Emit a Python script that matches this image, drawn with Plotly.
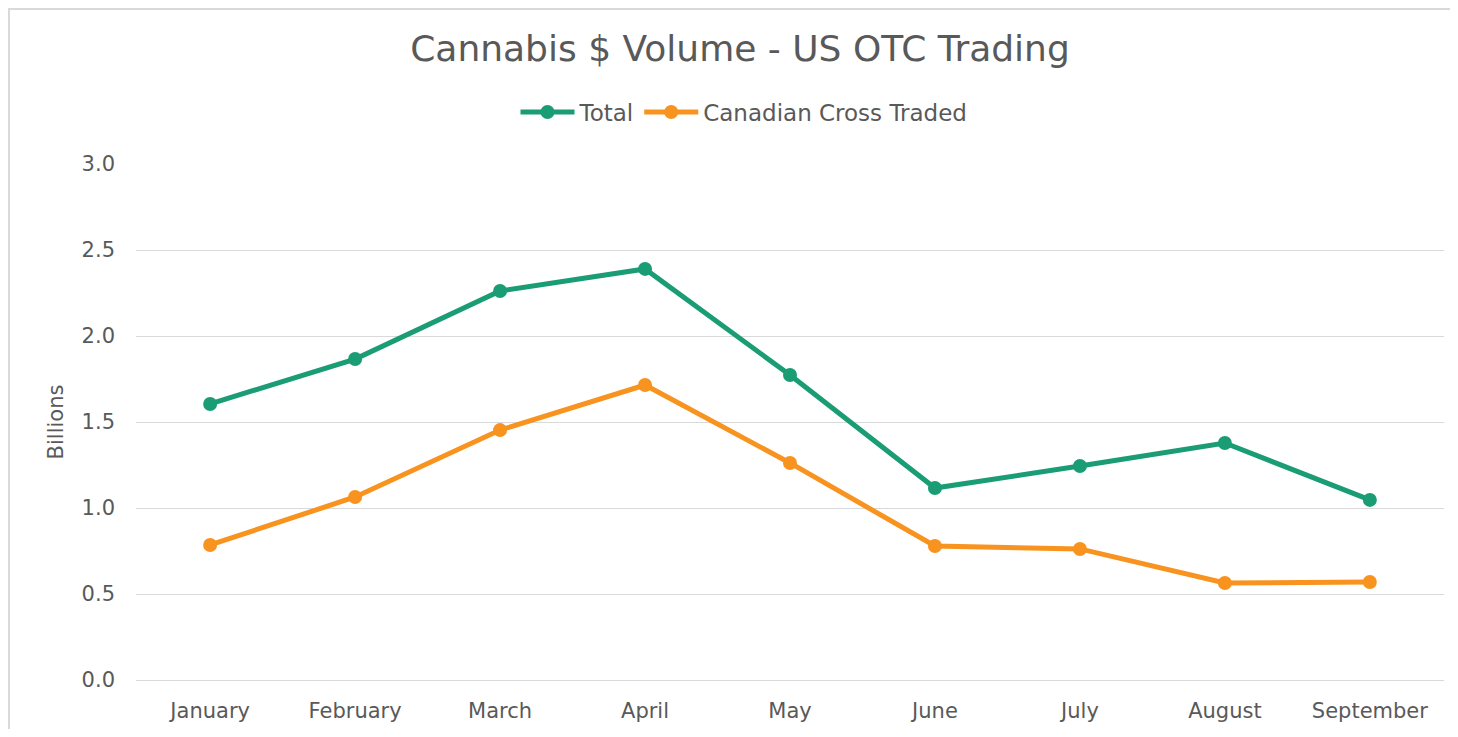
import plotly.graph_objects as go

months = ["January", "February", "March", "April", "May", "June", "July", "August", "September"]
total = [1.605, 1.866, 2.262, 2.39, 1.773, 1.116, 1.244, 1.378, 1.047]
canadian = [0.785, 1.064, 1.453, 1.715, 1.262, 0.779, 0.762, 0.564, 0.570]

# page has an 8px body margin, so figure is sized to fit inside it
W, H = 1442, 721
L, R, T, B = 128, 6, 156, 49
FONT = "DejaVu Sans"
GREY = "#595959"

fig = go.Figure()
fig.add_trace(go.Scatter(x=months, y=total, name="Total", mode="lines+markers",
                         line=dict(color="#1a9c74", width=5), marker=dict(size=14)))
fig.add_trace(go.Scatter(x=months, y=canadian, name="Canadian Cross Traded", mode="lines+markers",
                         line=dict(color="#f7931e", width=5), marker=dict(size=14)))

pw, ph = W - L - R, H - T - B
fig.add_shape(type="rect", xref="paper", yref="paper",
              x0=(1 - L) / pw, x1=(W + 20 - L) / pw, y0=-(B + 20) / ph, y1=1 + (T - 1) / ph,
              line=dict(color="#d9d9d9", width=2), layer="below")

fig.update_layout(
    width=W, height=H,
    margin=dict(l=L, r=R, t=T, b=B),
    paper_bgcolor="white", plot_bgcolor="white",
    font=dict(family=FONT, color=GREY, size=20),
    title=dict(text="Cannabis $ Volume - US OTC Trading", x=(740 - 8) / W, xanchor="center",
               y=1 - 40 / H, yanchor="middle", font=dict(size=36, color=GREY)),
    legend=dict(orientation="h", x=(744 - 8 - L) / pw, xanchor="center", y=1 + (T - 104) / ph,
                yanchor="middle", font=dict(size=23, color=GREY), itemwidth=54, traceorder="normal"),
    showlegend=True,
    xaxis=dict(showgrid=False, showline=True, linecolor="#d9d9d9", linewidth=1,
               ticks="", ticklabelstandoff=12, tickfont=dict(size=21, color=GREY)),
    yaxis=dict(range=[0, 3], dtick=0.5, tickformat=".1f", showgrid=True, gridcolor="#d9d9d9",
               gridwidth=1, zeroline=False, ticks="", ticklabelstandoff=20,
               tickfont=dict(size=21, color=GREY),
               title=dict(text="Billions", font=dict(size=21, color=GREY), standoff=12)),
)

fig.write_html("out.html")
